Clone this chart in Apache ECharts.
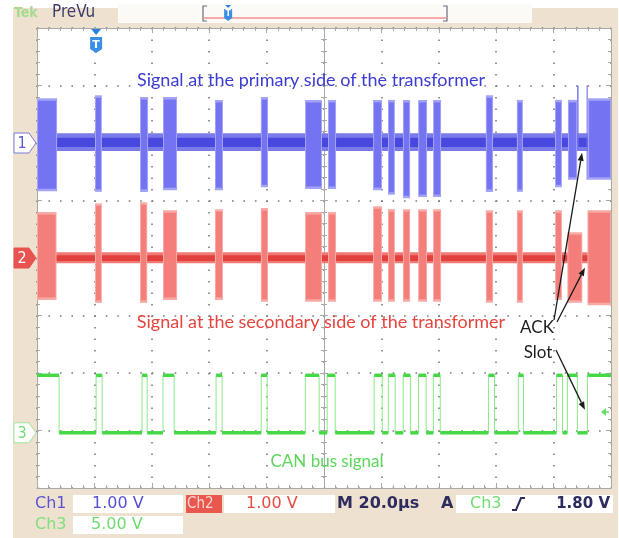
<!DOCTYPE html>
<html>
<head>
<meta charset="utf-8">
<script src="https://cdn.jsdelivr.net/npm/echarts@6/dist/echarts.min.js"></script>
<style>
html,body{margin:0;padding:0;background:#ffffff;}
#wrap{position:relative;width:619px;height:538px;overflow:hidden;}
#bg{position:absolute;left:13px;top:8px;width:605px;height:530px;background:#efe1cf;}
#c{position:absolute;left:0;top:0;width:619px;height:538px;}
</style>
</head>
<body>
<div id="wrap"><div id="bg"></div><div id="c"></div></div>
<script>
// ---------------- data (time in µs, levels in volts) ----------------
// CAN bus (Ch3) edge times and the level held from each edge to the next
const canEdges = [0, 7.7, 20.6, 22.7, 36.6, 38.4, 43.9, 47.8, 62.4, 64.5,
  78.1, 80.2, 93.5, 98.3, 101.1, 103.9, 117.5, 120.3, 122.4, 124.8,
  127.6, 130.1, 132.9, 135.6, 138.1, 140.5, 157.3, 159.4, 167.7, 169.5,
  181.0, 183.1, 184.8, 188.3, 191.8, 200];
const canLevels = [5, 0, 5, 0, 5, 0, 5, 0, 5, 0, 5, 0, 5, 0, 5, 0, 5, 0, 5, 0,
  5, 0, 5, 0, 5, 0, 5, 0, 5, 0, 5, 0, 5, 0, 5];
// Ch1 (primary side) bursts: [start, end, top V, bottom V]
const ch1Bursts = [
  [0, 7.0, 0.78, -0.84], [20.2, 22.6, 0.83, -0.85], [35.9, 38.7, 0.80, -0.85],
  [43.9, 48.8, 0.80, -0.82], [62.0, 64.8, 0.75, -0.82], [78.0, 80.5, 0.80, -0.77],
  [93.4, 99.3, 0.75, -0.80], [101.4, 104.2, 0.75, -0.80], [117.1, 120.2, 0.75, -0.82],
  [122.3, 124.7, 0.75, -0.90], [127.5, 130.0, 0.75, -0.96], [132.8, 135.9, 0.75, -0.94],
  [138.0, 140.8, 0.75, -0.94], [156.4, 158.9, 0.83, -0.85], [167.2, 169.3, 0.75, -0.85],
  [180.5, 182.9, 0.75, -0.77], [185.0, 188.2, 0.75, -0.64], [188.2, 188.7, 1.00, -0.10],
  [191.5, 191.9, 1.00, -0.64], [192.0, 200, 0.78, -0.64]
];
// Ch2 (secondary side) bursts: [start, end, top V, bottom V]
const ch2Bursts = [
  [0, 6.8, 0.80, -0.73], [20.2, 22.6, 0.95, -0.78], [35.9, 38.4, 0.97, -0.78],
  [43.9, 48.8, 0.83, -0.73], [62.0, 64.8, 0.85, -0.73], [78.0, 80.5, 0.87, -0.76],
  [93.4, 99.3, 0.80, -0.76], [101.4, 104.2, 0.80, -0.76], [117.1, 120.2, 0.90, -0.76],
  [122.3, 124.7, 0.85, -0.76], [127.5, 130.0, 0.85, -0.76], [132.8, 135.9, 0.85, -0.76],
  [138.0, 140.8, 0.85, -0.76], [156.4, 158.9, 0.83, -0.78], [167.2, 169.3, 0.83, -0.78],
  [180.5, 182.9, 0.83, -0.73], [184.8, 190.0, 0.45, -0.78], [191.8, 200, 0.83, -0.82]
];
// idle noise of each channel: core band and outer fringe [top V, bottom V]
const ch1Noise = [0.09, -0.07];
const ch1NoiseOuter = [0.17, -0.14];
const ch2Noise = [0.05, -0.05];
const ch2NoiseOuter = [0.10, -0.09];
const ch3Noise = 0.15;
// trigger and ACK annotations
const triggerTime = 20.6;
const triggerLevel = 1.80;
const ackTips = [[189.9, -0.17], [190.9, -0.17], [190.9, 2.0]];
// text
const titleCh1 = 'Signal at the primary side of the transformer';
const titleCh2 = 'Signal at the secondary side of the transformer';
const titleCh3 = 'CAN bus signal';
const ackLabel = ['ACK', 'Slot'];
const statusRow1 = ['Ch1', '1.00 V', 'Ch2', '1.00 V', 'M 20.0µs', 'A', 'Ch3', '1.80 V'];
const statusRow2 = ['Ch3', '5.00 V'];

// ---------------- chart ----------------
const chart = echarts.init(document.getElementById('c'), null, {renderer: 'canvas'});

const C1 = '#7474f2', C1F = '#a4a4f7', C1N = '#4848de', C1NF = '#7a7ae8';
const C2 = '#f47e7a', C2F = '#f8aaa6', C2N = '#e2403c', C2NF = '#ee7a76';
const C3 = '#44d844', C3L = '#8ae98a';
const GRID = '#7a7a7a', BORDER = '#a9a9a9';

function bandRender(color, fringe) {
  return function (params, api) {
    const p1 = api.coord([api.value(0), api.value(2)]);
    const p2 = api.coord([api.value(1), api.value(3)]);
    const w = Math.max(p2[0] - p1[0], 1), h = p2[1] - p1[1];
    const kids = [];
    if (fringe && w > 4) {
      kids.push({type: 'rect', shape: {x: p1[0], y: p1[1], width: w, height: h}, style: {fill: fringe}});
      kids.push({type: 'rect', shape: {x: p1[0] + 1, y: p1[1] + 2.5, width: w - 2, height: h - 5}, style: {fill: color}});
    } else {
      kids.push({type: 'rect', shape: {x: p1[0], y: p1[1], width: w, height: h}, style: {fill: color}});
    }
    return {type: 'group', children: kids};
  };
}

const segs = [];
for (let i = 0; i < canLevels.length; i++) {
  segs.push([canEdges[i], canEdges[i + 1], canLevels[i] + ch3Noise, canLevels[i] - ch3Noise]);
}
const canLine = canEdges.map((t, i) => [t, canLevels[Math.min(i, canLevels.length - 1)]]);

const tickCommon = {show: true, inside: true, length: 5, lineStyle: {color: BORDER}};
const minorCommon = {show: true, splitNumber: 5, length: 3, lineStyle: {color: BORDER}};

const option = {
  animation: false,
  backgroundColor: 'transparent',
  grid: {left: 37, top: 28, width: 574, height: 460, show: true, backgroundColor: '#ffffff',
    borderWidth: 0, containLabel: false, outerBoundsMode: 'none'},
  xAxis: [
    {type: 'value', min: 0, max: 200, interval: 20, position: 'bottom',
      axisLine: {show: true, onZero: false, lineStyle: {color: BORDER}},
      axisTick: tickCommon, minorTick: minorCommon, axisLabel: {show: false},
      splitLine: {show: true, lineStyle: {color: GRID, width: 1.6, type: [1.6, 9.9]}}},
    {type: 'value', min: 0, max: 200, interval: 20, position: 'top',
      axisLine: {show: true, onZero: false, lineStyle: {color: BORDER}},
      axisTick: tickCommon, minorTick: minorCommon, axisLabel: {show: false},
      splitLine: {show: false}},
    {type: 'value', min: -5, max: 5, interval: 1, position: 'bottom',
      axisLine: {show: true, onZero: true, onZeroAxisIndex: 1, lineStyle: {color: BORDER}},
      axisTick: {show: true, inside: true, length: 4, lineStyle: {color: BORDER}},
      minorTick: {show: true, splitNumber: 5, length: 3, lineStyle: {color: BORDER}},
      axisLabel: {show: false}, splitLine: {show: false}},
    {type: 'value', min: -5, max: 5, interval: 1, position: 'bottom',
      axisLine: {show: false, onZero: true, onZeroAxisIndex: 1},
      axisTick: {show: true, inside: false, length: 4, lineStyle: {color: BORDER}},
      minorTick: {show: true, splitNumber: 5, length: 3, lineStyle: {color: BORDER}},
      axisLabel: {show: false}, splitLine: {show: false}}
  ],
  yAxis: [
    {type: 'value', min: -6, max: 2, show: false, axisLine: {onZero: false}},
    {type: 'value', min: -4, max: 4, interval: 1, position: 'left',
      axisLine: {show: true, onZero: false, lineStyle: {color: BORDER}},
      axisTick: tickCommon, minorTick: minorCommon, axisLabel: {show: false},
      splitLine: {show: true, lineStyle: {color: GRID, width: 1.6, type: [1.6, 9.87]}}},
    {type: 'value', min: -4.8, max: 35.2, show: false, axisLine: {onZero: false}},
    {type: 'value', min: -4, max: 4, interval: 1, position: 'right',
      axisLine: {show: true, onZero: false, lineStyle: {color: BORDER}},
      axisTick: tickCommon, minorTick: minorCommon, axisLabel: {show: false},
      splitLine: {show: false}},
    {type: 'value', min: -4, max: 4, interval: 1, position: 'left',
      axisLine: {show: true, onZero: true, onZeroAxisIndex: 2, lineStyle: {color: BORDER}},
      axisTick: {show: true, inside: true, length: 4, lineStyle: {color: BORDER}},
      minorTick: {show: true, splitNumber: 5, length: 3, lineStyle: {color: BORDER}},
      axisLabel: {show: false}, splitLine: {show: false}},
    {type: 'value', min: -4, max: 4, interval: 1, position: 'left',
      axisLine: {show: false, onZero: true, onZeroAxisIndex: 2},
      axisTick: {show: true, inside: false, length: 4, lineStyle: {color: BORDER}},
      minorTick: {show: true, splitNumber: 5, length: 3, lineStyle: {color: BORDER}},
      axisLabel: {show: false}, splitLine: {show: false}}
  ],
  series: [
    {type: 'custom', name: 'ch1noiseOuter', xAxisIndex: 0, yAxisIndex: 0,
      renderItem: bandRender(C1NF), data: [[0, 200, ch1NoiseOuter[0], ch1NoiseOuter[1]]], z: 3},
    {type: 'custom', name: 'ch1noise', xAxisIndex: 0, yAxisIndex: 0,
      renderItem: bandRender(C1N), data: [[0, 200, ch1Noise[0], ch1Noise[1]]], z: 3},
    {type: 'custom', name: 'ch1', xAxisIndex: 0, yAxisIndex: 0,
      renderItem: bandRender(C1, C1F), data: ch1Bursts, z: 4},
    {type: 'custom', name: 'ch2noiseOuter', xAxisIndex: 0, yAxisIndex: 1,
      renderItem: bandRender(C2NF), data: [[0, 200, ch2NoiseOuter[0], ch2NoiseOuter[1]]], z: 3},
    {type: 'custom', name: 'ch2noise', xAxisIndex: 0, yAxisIndex: 1,
      renderItem: bandRender(C2N), data: [[0, 200, ch2Noise[0], ch2Noise[1]]], z: 3},
    {type: 'custom', name: 'ch2', xAxisIndex: 0, yAxisIndex: 1,
      renderItem: bandRender(C2, C2F), data: ch2Bursts, z: 4},
    {type: 'line', name: 'ch3edges', xAxisIndex: 0, yAxisIndex: 2, step: 'end',
      data: canLine, showSymbol: false, symbol: 'none',
      lineStyle: {color: C3L, width: 1}, z: 3},
    {type: 'custom', name: 'ch3', xAxisIndex: 0, yAxisIndex: 2,
      renderItem: bandRender(C3), data: segs, z: 4}
  ]
};
chart.setOption(option);

// ---------------- decorations ----------------
function px(yIdx, pt) { return chart.convertToPixel({xAxisIndex: 0, yAxisIndex: yIdx}, pt); }
const FONT = '"DejaVu Sans", sans-serif';
const CFONT = '"DejaVu Sans Condensed", "DejaVu Sans", sans-serif';
const AFONT = 'Lato, "Open Sans", sans-serif';
const g = [];
function txt(t, x, y, fill, font, align) {
  g.push({type: 'text', z: 50, style: {text: t, x: x, y: y, fill: fill, font: font,
    align: align || 'left', verticalAlign: 'middle'}});
}
function rect(x, y, w, h, fill) {
  g.push({type: 'rect', z: 40, shape: {x: x, y: y, width: w, height: h}, style: {fill: fill}});
}

// channel ground markers
function chMarker(cy, fill, stroke, t, tc) {
  g.push({type: 'polygon', z: 45, shape: {points: [[14, cy - 10], [29, cy - 10], [36, cy], [29, cy + 10], [14, cy + 10]]},
    style: {fill: fill, stroke: stroke, lineWidth: 1}});
  txt(t, 22, cy + 1, tc, '16px ' + CFONT, 'center');
}
const z1 = px(0, [0, 0])[1], z2 = px(1, [0, 0])[1], z3 = px(2, [0, 0])[1];
chMarker(z1, '#ffffff', '#7a7ad8', '1', '#5a5ad0');
chMarker(z2, '#e8534f', '#e8534f', '2', '#ffffff');
chMarker(z3, '#ffffff', '#9be59b', '3', '#6fdc6f');

// trigger level marker (right edge)
const ty = px(2, [200, triggerLevel])[1];
g.push({type: 'polygon', z: 45, shape: {points: [[601, ty], [606, ty - 4], [606, ty + 4]]}, style: {fill: '#66dd66'}});
g.push({type: 'line', z: 45, shape: {x1: 605, y1: ty, x2: 609, y2: ty}, style: {stroke: '#66dd66', lineWidth: 1.5}});

// trigger position marker (screen)
const tx = px(0, [triggerTime, 0])[0];
g.push({type: 'polygon', z: 45, shape: {points: [[tx - 5, 29], [tx + 5, 29], [tx, 35]]}, style: {fill: '#2f80dc'}});
g.push({type: 'polygon', z: 45, shape: {points: [[tx - 6, 37], [tx + 6, 37], [tx + 6, 49], [tx, 53], [tx - 6, 49]]}, style: {fill: '#3a8ee6'}});
txt('T', tx, 45, '#ffffff', 'bold 11px ' + FONT, 'center');

// top bar
txt('Tek', 14, 13, '#a7da8f', 'bold 14px ' + CFONT);
txt('PreVu', 52, 13, '#3d3d6e', '17px ' + CFONT);
rect(118, 4, 414, 19, '#fbfaf6');
g.push({type: 'line', z: 45, shape: {x1: 204, y1: 18, x2: 446, y2: 18}, style: {stroke: '#f29090', lineWidth: 1.5}});
g.push({type: 'polyline', z: 45, shape: {points: [[207, 6], [203, 6], [203, 21], [207, 21]]}, style: {stroke: '#6c6c7c', lineWidth: 1.2, fill: null}});
g.push({type: 'polyline', z: 45, shape: {points: [[443, 6], [447, 6], [447, 21], [443, 21]]}, style: {stroke: '#6c6c7c', lineWidth: 1.2, fill: null}});
const sx = 203 + (triggerTime / 200) * 244;
g.push({type: 'polygon', z: 45, shape: {points: [[sx - 3, 5], [sx + 3, 5], [sx, 8]]}, style: {fill: '#2f80dc'}});
g.push({type: 'polygon', z: 45, shape: {points: [[sx - 4, 9], [sx + 4, 9], [sx + 4, 18], [sx, 21], [sx - 4, 18]]}, style: {fill: '#3a8ee6'}});
txt('T', sx, 14, '#ffffff', 'bold 8px ' + FONT, 'center');

// annotations
txt(titleCh1, 311, 80, '#3c3cd4', '18px ' + AFONT, 'center');
txt(titleCh2, 321, 322, '#e6443e', '18px ' + AFONT, 'center');
txt(titleCh3, 327, 462, '#5cd65c', '17px ' + AFONT, 'center');
txt(ackLabel[0], 537, 328, '#1e1e1e', '17px ' + AFONT, 'center');
txt(ackLabel[1], 538, 353, '#1e1e1e', '17px ' + AFONT, 'center');

function arrow(x1, y1, yIdx, pt) {
  const p = px(yIdx, pt);
  const dx = p[0] - x1, dy = p[1] - y1, L = Math.sqrt(dx * dx + dy * dy);
  const ux = dx / L, uy = dy / L, hl = 8, hw = 3;
  const bx = p[0] - ux * hl, by = p[1] - uy * hl;
  g.push({type: 'line', z: 46, shape: {x1: x1, y1: y1, x2: bx, y2: by}, style: {stroke: '#1a1a1a', lineWidth: 1.3}});
  g.push({type: 'polygon', z: 46, shape: {points: [[p[0], p[1]], [bx - uy * hw, by + ux * hw], [bx + uy * hw, by - ux * hw]]}, style: {fill: '#1a1a1a'}});
}
arrow(554, 320, 0, ackTips[0]);
arrow(557, 322, 1, ackTips[1]);
arrow(556, 350, 2, ackTips[2]);

// status bar
const SF = '16px ' + FONT, SFB = 'bold 16px ' + FONT;
rect(73, 495, 110, 18, '#ffffff');
rect(224, 495, 111, 18, '#ffffff');
rect(456, 495, 157, 18, '#ffffff');
rect(73, 516, 110, 18, '#ffffff');
rect(186, 495, 36, 18, '#e9574f');
txt(statusRow1[0], 35, 504, '#5a54d2', SF);
txt(statusRow1[1], 92, 504, '#5650d2', SF);
txt(statusRow1[2], 187, 504, '#ffd6d2', '15px ' + CFONT);
txt(statusRow1[3], 246, 504, '#e84a46', SF);
txt(statusRow1[4], 337, 504, '#2c2c5e', SFB);
txt(statusRow1[5], 441, 504, '#2c2c5e', SFB);
txt(statusRow1[6], 470, 504, '#70dc70', SF);
g.push({type: 'polyline', z: 45, shape: {points: [[512, 510], [516, 510], [521, 498], [525, 498]]}, style: {stroke: '#2c2c5e', lineWidth: 2, fill: null}});
txt(statusRow1[7], 610, 504, '#2c2c5e', 'bold 15px ' + FONT, 'right');
txt(statusRow2[0], 35, 525, '#7ee07e', SF);
txt(statusRow2[1], 91, 525, '#6edc6e', SF);

chart.setOption({graphic: {elements: g}});
</script>
</body>
</html>
